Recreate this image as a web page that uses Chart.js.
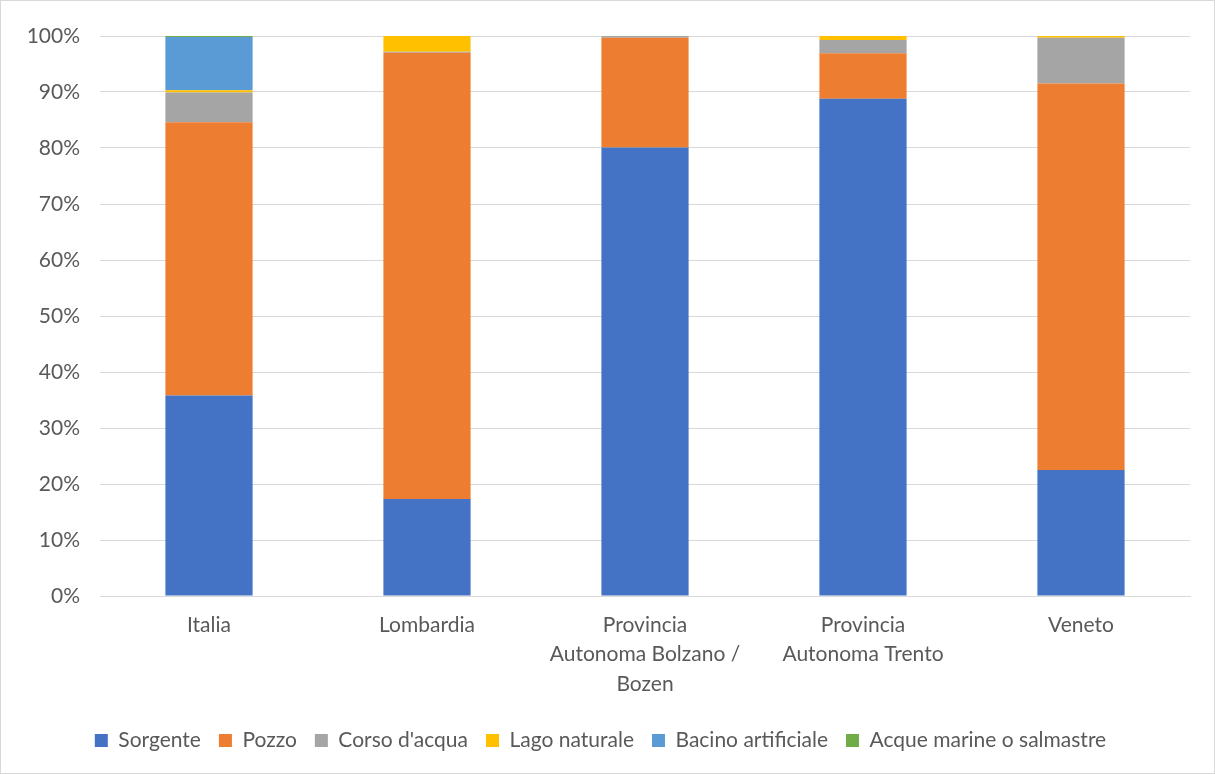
<!DOCTYPE html>
<html><head><meta charset="utf-8">
<script src="https://cdn.jsdelivr.net/npm/chart.js@4"></script>
<style>
html,body{margin:0;padding:0;background:#fff;}
#wrap{width:1213px;height:772px;border:1px solid #d9d9d9;position:relative;}
</style></head>
<body><div id="wrap"><canvas id="c" width="1213" height="772"></canvas></div>
<script>
const categories = [["Italia"],["Lombardia"],["Provincia","Autonoma Bolzano /","Bozen"],["Provincia","Autonoma Trento"],["Veneto"]];
const sorgente = [35.8, 17.3, 80.1, 88.8, 22.5];
const pozzo = [48.8, 79.7, 19.6, 8.1, 69.0];
const corsoAcqua = [5.3, 0.2, 0.3, 2.4, 8.2];
const lagoNaturale = [0.4, 2.8, 0, 0.7, 0.3];
const bacinoArtificiale = [9.5, 0, 0, 0, 0];
const acqueMarine = [0.2, 0, 0, 0, 0];
const yTicks = [0,10,20,30,40,50,60,70,80,90,100];

const font = "Lato, 'Open Sans', sans-serif";
const textColor = '#595959';
Chart.defaults.font.family = font;
Chart.defaults.color = textColor;

new Chart(document.getElementById('c'), {
  type: 'bar',
  data: {
    labels: categories,
    datasets: [
      {label:'Sorgente', data: sorgente, backgroundColor:'#4472C4'},
      {label:'Pozzo', data: pozzo, backgroundColor:'#ED7D31'},
      {label:"Corso d'acqua", data: corsoAcqua, backgroundColor:'#A5A5A5'},
      {label:'Lago naturale', data: lagoNaturale, backgroundColor:'#FFC000'},
      {label:'Bacino artificiale', data: bacinoArtificiale, backgroundColor:'#5B9BD5'},
      {label:'Acque marine o salmastre', data: acqueMarine, backgroundColor:'#70AD47'}
    ]
  },
  options: {
    responsive: false,
    animation: false,
    datasets: { bar: { barPercentage: 0.4, categoryPercentage: 1.0 } },
    layout: { padding: { left: 10, right: 24, top: 35, bottom: 12 } },
    plugins: {
      tooltip: { enabled: false },
      legend: {
        position: 'bottom',
        labels: { boxWidth: 13, boxHeight: 13, padding: 18, font: { size: 21, family: font }, color: textColor }
      }
    },
    scales: {
      x: {
        stacked: true,
        grid: { display: false },
        border: { color: '#d9d9d9' },
        ticks: { font: { size: 21, family: font, lineHeight: 1.42 }, color: textColor, padding: 6, maxRotation: 0 },
        afterFit: s => { s.height = 116; }
      },
      y: {
        stacked: true,
        min: 0, max: 100,
        afterBuildTicks: s => { s.ticks = yTicks.map(v => ({value: v})); },
        grid: { color: '#d9d9d9', drawTicks: false },
        border: { display: false },
        ticks: { font: { size: 21, family: font }, color: textColor, padding: 20, callback: v => v + '%' },
        afterFit: s => { s.width = 89; }
      }
    }
  }
});
</script></body></html>
